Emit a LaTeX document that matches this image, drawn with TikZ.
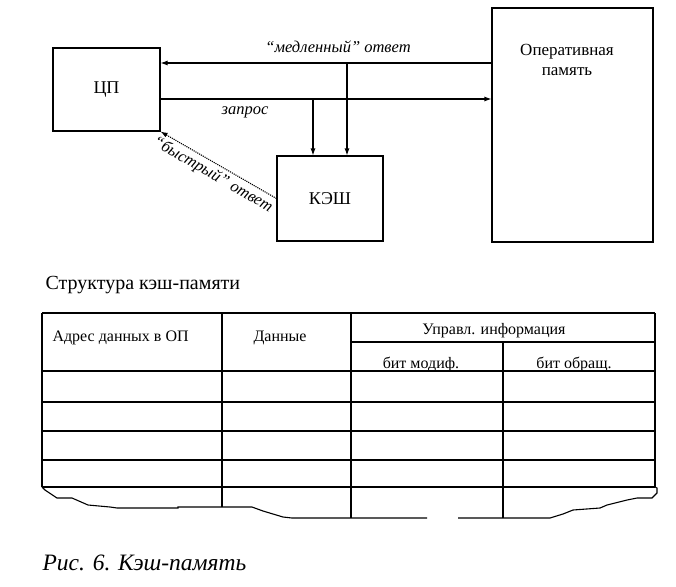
\documentclass[tikz,border=0pt]{standalone}
\usepackage{fontspec}
\setmainfont{Liberation Serif}
\usetikzlibrary{arrows.meta}
\tikzset{
  blok/.style={draw, font=\fontsize{18}{20}\selectfont},
  strelka/.style={-{Latex[length=7pt,width=5pt]}},
  podpis/.style={font=\itshape\fontsize{16.5}{18}\selectfont},
  yach/.style={font=\fontsize{16}{18}\selectfont, inner sep=0pt}
}
\begin{document}
\begin{tikzpicture}[x=1pt, y=-1pt, line width=1.1pt]
\useasboundingbox (0,0) rectangle (676,586);
% Блоки
\node[blok, minimum width=107pt, minimum height=83pt] (cp) at (106.5,89.5) {ЦП};
\node[blok, minimum width=106pt, minimum height=85pt] (kesh) at (330,198.5) {КЭШ};
\node[blok, minimum width=161pt, minimum height=234pt] (op) at (572.5,125) {};
\node[yach, font=\fontsize{17}{20}\selectfont, align=center] (optext) at (567,60) {Оперативная\\память};
% Связи
\coordinate (m1) at (347,63);
\coordinate (z1) at (313,99);
\draw[strelka] (op.west |- m1) -- (cp.east |- m1);
\draw[strelka] (m1) -- (m1 |- kesh.north);
\draw[strelka] (cp.east |- z1) -- (op.west |- z1);
\draw[strelka] (z1) -- (z1 |- kesh.north);
\draw[strelka, densely dotted] (kesh.west) -- (cp.south east)
  node[podpis, midway, sloped, below] (bystr) {“быстрый” ответ};
\node[podpis] (medl) at (338,47) {“медленный” ответ};
\node[podpis] (zapr) at (245,112) {запрос};
% Таблица
\node[yach, font=\fontsize{20}{22}\selectfont, anchor=west] (zag) at (45,285) {Структура кэш-памяти};
\draw (42,313) -- (655,313);
\draw (351,342) -- (655,342);
\foreach \y in {371,402,431,460,487}
  \draw (42,\y) -- (655,\y);
\draw (42,313) -- (42,487);
\draw (222,313) -- (222,507);
\draw (351,313) -- (351,518);
\draw (503,342) -- (503,518);
\draw (655,313) -- (655,487);
% обрыв снизу
\draw (42,487) -- (45,490) -- (57,498) -- (72,498) -- (88,505) -- (110,507) -- (117,508)
  -- (178,508) -- (178,507) -- (222,507) -- (252,507) -- (263,511) -- (283,517) -- (292,518) -- (427,518);
\draw (458,518) -- (503,518) -- (550,518) -- (563,514) -- (573,510) -- (600,508) -- (607,505)
  -- (627,500) -- (637,498) -- (652,498) -- (657,493) -- (657,488) -- (655,487);
% Заголовки
\node[yach, anchor=west] (adr) at (52,338) {Адрес данных в ОП};
\node[yach] (dan) at (280,338) {Данные};
\node[yach] (upr) at (494,331) {Управл. информация};
\node[yach] (mod) at (421,364) {бит модиф.};
\node[yach] (obr) at (574,364) {бит обращ.};
% Подпись
\node[yach, font=\itshape\fontsize{23.5}{25}\selectfont, anchor=west] (ris) at (42,563) {Рис. 6. Кэш-память};
\end{tikzpicture}
\end{document}
